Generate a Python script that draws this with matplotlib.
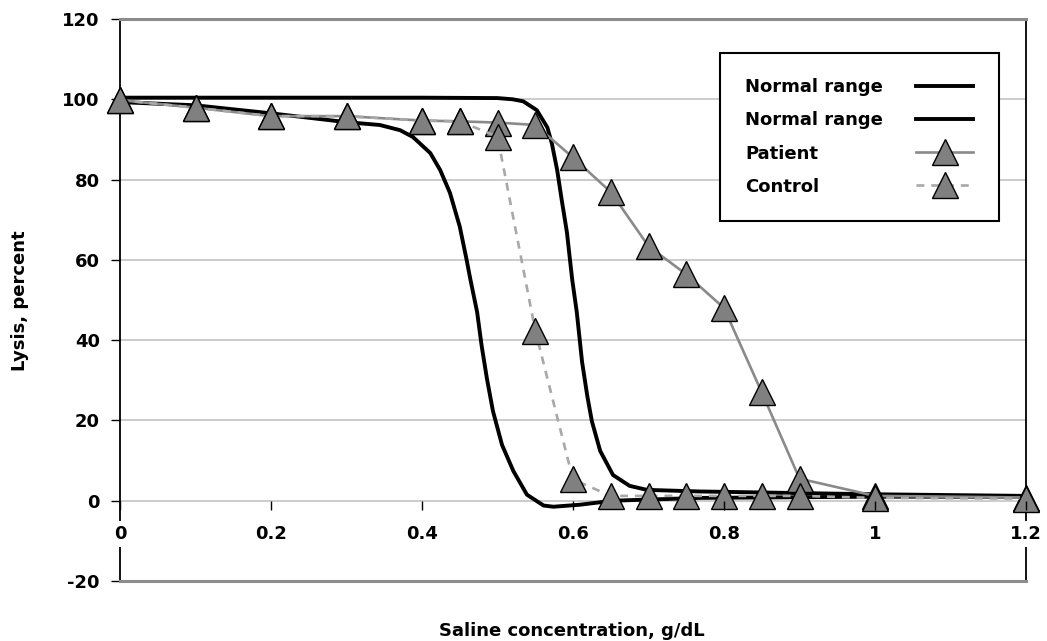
import matplotlib
matplotlib.use("Agg")
import matplotlib.pyplot as plt

# ---------------- data ----------------
conc = [0, 0.1, 0.2, 0.3, 0.4, 0.45, 0.5, 0.55, 0.6, 0.65, 0.7, 0.75, 0.8, 0.85, 0.9, 1.0, 1.2]
patient = [99.8, 97.9, 95.8, 95.8, 94.7, 94.5, 94.2, 93.6, 85.5, 76.9, 63.4, 56.4, 48.0, 27.0, 5.5, 1.2, 0.8]
control = [99.8, 97.9, 95.8, 95.8, 94.7, 94.5, 90.7, 42.4, 5.3, 1.2, 1.2, 1.2, 1.2, 1.2, 1.2, 0.7, 0.5]

normal_hi_x = [0, 0.2, 0.4, 0.5, 0.52, 0.534, 0.552, 0.566, 0.572, 0.579, 0.585, 0.592,
               0.596, 0.599, 0.605, 0.612, 0.619, 0.625, 0.636, 0.653, 0.675, 0.698, 0.768,
               0.9, 1.0, 1.2]
normal_hi_y = [100.4, 100.4, 100.4, 100.3, 100.0, 99.5, 97.3, 93.0, 89.0, 82.4, 75.0, 66.8,
               60.0, 55.0, 47.0, 34.6, 26.0, 19.8, 12.4, 6.4, 3.7, 2.7, 2.3,
               1.9, 1.6, 1.2]

normal_lo_x = [0, 0.1, 0.2, 0.3, 0.344, 0.371, 0.388, 0.411, 0.424, 0.437, 0.45, 0.459,
               0.464, 0.473, 0.479, 0.486, 0.494, 0.506, 0.521, 0.539, 0.561, 0.574, 0.609,
               0.653, 0.768, 1.0, 1.2]
normal_lo_y = [99.3, 98.5, 96.5, 94.3, 93.6, 92.3, 90.6, 86.6, 82.4, 76.7, 68.3, 60.1,
               55.2, 47.0, 38.6, 30.4, 22.3, 13.9, 7.4, 1.5, -1.2, -1.5, -1.0,
               0.0, 0.7, 1.0, 1.0]

x_ticks = [0, 0.2, 0.4, 0.6, 0.8, 1.0, 1.2]
x_tick_labels = ["0", "0.2", "0.4", "0.6", "0.8", "1", "1.2"]
y_ticks = [-20, 0, 20, 40, 60, 80, 100, 120]

series_labels = ["Normal range", "Normal range", "Patient", "Control"]
x_label = "Saline concentration, g/dL"
y_label = "Lysis, percent"

# ---------------- figure ----------------
FS = 13
plt.rcParams["font.family"] = ["DejaVu Sans"]
plt.rcParams["font.weight"] = "bold"

W, H = 1047, 641
DPI = 100
fig = plt.figure(figsize=(W / DPI, H / DPI), dpi=DPI)
top_px, bot_px, left_px, right_px = 19, 581, 120, 1026
ax = fig.add_axes([left_px / W, 1 - bot_px / H, (right_px - left_px) / W, (bot_px - top_px) / H])

ax.set_xlim(0, 1.2)
ax.set_ylim(-20, 120)

# curves
ax.plot(normal_hi_x, normal_hi_y, color="black", lw=2.8, solid_joinstyle="round",
        label=series_labels[0], zorder=3)
ax.plot(normal_lo_x, normal_lo_y, color="black", lw=2.8, solid_joinstyle="round",
        label=series_labels[1], zorder=3)
ax.plot(conc, patient, color="#8a8a8a", lw=1.9, marker="^", markersize=19,
        markerfacecolor="#808080", markeredgecolor="black", markeredgewidth=1.0,
        label=series_labels[2], zorder=4, clip_on=False)
ax.plot(conc, control, color="#a8a8a8", lw=1.9, linestyle=(0, (3, 2.6)), marker="^",
        markersize=19, markerfacecolor="#808080", markeredgecolor="black",
        markeredgewidth=1.0, label=series_labels[3], zorder=4, clip_on=False)

# y axis
ax.set_yticks(y_ticks)
ax.set_yticklabels([str(v) for v in y_ticks], fontsize=FS, fontweight="bold")
ax.tick_params(axis="y", direction="out", length=6.5, width=1.0, pad=8, colors="black")
ax.yaxis.grid(True, color="#c4c4c4", lw=1.2)
ax.set_axisbelow(True)

# frame
for side in ("left", "right"):
    ax.spines[side].set_color("black")
    ax.spines[side].set_linewidth(1.3)
for side in ("top", "bottom"):
    ax.spines[side].set_color("#8c8c8c")
    ax.spines[side].set_linewidth(2.2)

# x axis crossing at y = 0
ax.tick_params(axis="x", bottom=False, labelbottom=False)
ymin, ymax = ax.get_ylim()
sec = ax.secondary_xaxis((0 - ymin) / (ymax - ymin))
sec.patch.set_visible(False)
sec.spines["bottom"].set_visible(False)
sec.set_xticks(x_ticks)
sec.set_xticklabels(x_tick_labels, fontsize=FS, fontweight="bold")
sec.tick_params(axis="x", direction="out", length=6.5, width=1.0, pad=11, colors="black")
for lbl in sec.get_xticklabels():
    lbl.set_bbox(dict(facecolor="white", edgecolor="none", pad=3))
sec.set_zorder(5)

# axis titles
fig.text(20 / W, 1 - 301 / H, y_label, rotation=90, ha="center", va="center",
         fontsize=FS, fontweight="bold")
fig.text(572 / W, 1 - 636 / H, x_label, ha="center", va="baseline",
         fontsize=FS, fontweight="bold")

# legend (labels on the left, handles on the right)
leg = ax.legend(loc="upper left", bbox_to_anchor=(720 / W, 1 - 53 / H),
                bbox_transform=fig.transFigure, borderaxespad=0,
                prop={"weight": "bold", "size": FS}, markerfirst=False,
                handlelength=3.2, handletextpad=1.8, labelspacing=0.84,
                borderpad=1.4, numpoints=1, fancybox=False, framealpha=1,
                edgecolor="black")
leg.get_frame().set_linewidth(1.5)
leg.set_zorder(6)

# left-align the label texts while keeping the handles in one column
renderer = fig.canvas.get_renderer()
try:
    column = leg._legend_handle_box.get_children()[0]
    rows = column.get_children()
    widths = [row.get_children()[0].get_bbox(renderer).width for row in rows]
    wmax = max(widths)
    column.align = "left"
    for row, w in zip(rows, widths):
        row.sep = row.sep + (wmax - w) * 72.0 / DPI
except Exception:
    pass

fig.savefig("out.png", dpi=DPI)
